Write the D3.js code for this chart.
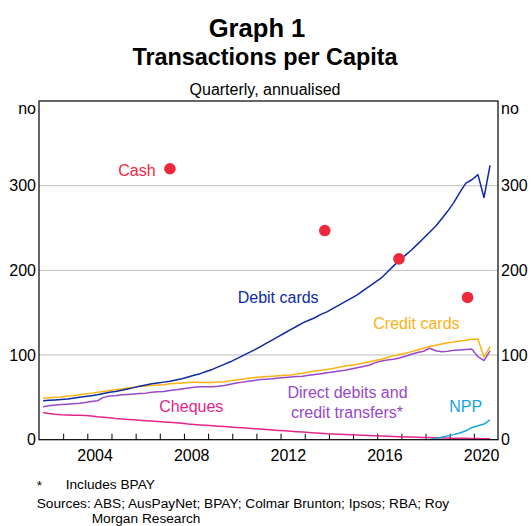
<!DOCTYPE html>
<head>
    <meta charset='utf-8'>
    <title>Transactions per Capita</title>
    <script src='https://d3js.org/d3.v7.min.js'></script>
    <style>
        html, body {
            margin: 0px;
            padding: 0px;
            background: white;
        }
        svg {
            display: block;
            font-family: 'Liberation Sans', Arial, sans-serif;
        }
    </style>
</head>
<body>
    <div id='chart'></div>
    <script>
        // quarterly, first quarter is 2002 Q1
        var firstYear = 2002;

        var debit = [
            46, 46.5, 47, 47.5,   48, 49, 50, 51,   52, 53, 54.5, 56,   57, 58.5, 60, 61.5,
            63, 64.5, 66, 67,     68, 69, 70.5, 72, 74, 76, 78, 80.5,   83, 86, 89, 92,
            95.5, 99, 102.5, 106, 110, 114, 118, 122, 126, 130, 134, 138, 141, 144, 148, 151,
            155, 159, 163, 167,   171, 176, 181, 186, 191, 198, 205, 212, 218, 224, 231, 238,
            245, 252, 261, 270,   280, 292, 303, 307, 313, 286, 324
        ];
        var credit = [
            49, 49.5, 50, 50.5,   51.5, 52, 53, 54, 55, 56, 57, 58,     59, 60, 61, 62,
            63, 63.5, 64, 64.5,   65, 66, 66.5, 67, 67.5, 68, 67.5, 67.5, 67.5, 68, 68.5, 69.5,
            70.5, 71.5, 72.5, 73.5, 74, 74.5, 75, 75.5, 76, 76.5, 77.5, 78.5, 80, 81, 82, 83,
            84, 85.5, 87, 88,     89, 90.5, 92, 93.5, 95, 97, 99, 100.5, 102, 104, 106, 108,
            110, 111.5, 113, 114.5, 115.5, 116.5, 117.5, 118.5, 119, 97.5, 110
        ];
        var directDebits = [
            39, 40, 41, 41.5,     42, 42.5, 43, 44, 45, 46, 50, 51.5,   52, 53, 53.5, 54,
            54.5, 55, 56, 56.5,   57, 58, 59, 60,   61, 62, 62.5, 62.5, 62.5, 63, 64, 65.5,
            67, 68, 69, 70,       71, 71.5, 72, 73, 73.5, 74, 74.5, 75, 76, 77, 78, 79,
            80, 81, 82, 83.5,     85, 86.5, 88, 91, 93, 94, 95, 96.5,  98.5, 101, 103, 104.5,
            108, 105, 104, 104.5, 105.5, 106, 106.5, 107, 98, 93.5, 105
        ];
        var cheques = [
            32, 31, 30, 29.5,     29.2, 29, 28.8, 28.5, 28, 27, 26.5, 26, 25, 24.5, 24, 23.5,
            23, 22.5, 22, 21.5,   21, 20.5, 20, 19.5, 18.5, 18, 17.5, 17, 16.5, 16, 15.5, 15,
            14.5, 14, 13.5, 13,   12.5, 12, 11.5, 11, 10.5, 10, 9.5, 9,  8.5, 8, 7.5, 7,
            6.8, 6.5, 6.2, 5.9,   5.6, 5.3, 5, 4.7, 4.4, 4.1, 3.8, 3.5,  3.3, 3.1, 2.9, 2.7,
            2.5, 2.3, 2.1, 1.9,   1.8, 1.7, 1.6, 1.5, 1.3, 1.1, 1.1
        ];
        // NPP starts 2018 Q1
        var nppStart = 64;
        var npp = [0.2, 1.5, 3, 4.5, 6, 8, 10.5, 14.5, 16.5, 18.5, 23.3];

        // cash survey points
        var cashYears = [2007.42, 2013.83, 2016.9, 2019.74];
        var cashValues = [320, 247, 213.5, 168];

        var yTicks = [0, 100, 200, 300];
        var yearLabels = [2004, 2008, 2012, 2016, 2020];

        var width = 531, height = 526;
        var margin = {top: 101, right: 33, bottom: 86.3, left: 39};

        var svg = d3.select('#chart').append('svg')
            .attr('width', width)
            .attr('height', height);

        var x = d3.scaleLinear()
            .domain([2002, 2021])
            .range([margin.left, width - margin.right]);
        var y = d3.scaleLinear()
            .domain([0, 400])
            .range([height - margin.bottom, margin.top]);

        function qDate(i) { return firstYear + Math.floor(i / 4) + (i % 4) / 4 + 0.17; }

        // titles
        svg.append('text').attr('x', 257).attr('y', 37)
            .attr('text-anchor', 'middle').attr('font-weight', 'bold').attr('font-size', 25.6)
            .text('Graph 1');
        svg.append('text').attr('x', 265).attr('y', 65)
            .attr('text-anchor', 'middle').attr('font-weight', 'bold').attr('font-size', 23.4)
            .text('Transactions per Capita');
        svg.append('text').attr('x', 265).attr('y', 95)
            .attr('text-anchor', 'middle').attr('font-size', 16)
            .text('Quarterly, annualised');

        // gridlines
        svg.append('g').selectAll('line')
            .data(yTicks.slice(1))
            .enter().append('line')
            .attr('x1', x.range()[0]).attr('x2', x.range()[1])
            .attr('y1', function(d) { return y(d); })
            .attr('y2', function(d) { return y(d); })
            .attr('stroke', '#bdbdbd').attr('stroke-width', 1);

        // y axes, left and right
        var yl = svg.append('g')
            .attr('transform', 'translate(' + margin.left + ',0)')
            .call(d3.axisLeft(y).tickValues(yTicks).tickSize(0).tickPadding(3));
        var yr = svg.append('g')
            .attr('transform', 'translate(' + (width - margin.right) + ',0)')
            .call(d3.axisRight(y).tickValues(yTicks).tickSize(0).tickPadding(3));
        [yl, yr].forEach(function(g) {
            g.select('.domain').remove();
            g.selectAll('text').attr('font-size', 16).attr('fill', '#000')
                .attr('font-family', "'Liberation Sans', Arial, sans-serif");
        });
        svg.append('text').attr('x', 36).attr('y', 114)
            .attr('text-anchor', 'end').attr('font-size', 16).text('no');
        svg.append('text').attr('x', 501).attr('y', 114)
            .attr('font-size', 16).text('no');

        // x axis: year ticks inward, labels mid-year
        var xTicks = svg.append('g')
            .attr('transform', 'translate(0,' + y(0) + ')')
            .call(d3.axisBottom(x).tickValues(d3.range(2003, 2021)).tickSize(-6).tickFormat(''));
        xTicks.select('.domain').remove();
        xTicks.selectAll('line').attr('stroke', '#000');

        var xLabels = svg.append('g')
            .attr('transform', 'translate(0,' + y(0) + ')')
            .call(d3.axisBottom(x).tickValues(yearLabels.map(function(d) { return d + 0.3; }))
                .tickSize(0).tickPadding(10).tickFormat(function(d) { return Math.floor(d); }));
        xLabels.select('.domain').remove();
        xLabels.selectAll('text').attr('font-size', 16).attr('fill', '#000')
            .attr('font-family', "'Liberation Sans', Arial, sans-serif");

        // lines
        var line = d3.line()
            .x(function(d) { return x(d[0]); })
            .y(function(d) { return y(d[1]); });

        function pairs(values, start) {
            return values.map(function(v, i) { return [qDate(i + start), v]; });
        }

        var series = [
            {values: pairs(cheques, 0), color: '#e5258c'},
            {values: pairs(npp, nppStart), color: '#18a4df'},
            {values: pairs(directDebits, 0), color: '#9848c8'},
            {values: pairs(credit, 0), color: '#fdb213'},
            {values: pairs(debit, 0), color: '#0d2ba6'}
        ];

        svg.append('g').selectAll('path')
            .data(series)
            .enter().append('path')
            .attr('d', function(d) { return line(d.values); })
            .attr('fill', 'none')
            .attr('stroke', function(d) { return d.color; })
            .attr('stroke-width', 1.5)
            .attr('stroke-linejoin', 'round');

        // cash dots
        svg.append('g').selectAll('circle')
            .data(cashYears)
            .enter().append('circle')
            .attr('cx', function(d) { return x(d); })
            .attr('cy', function(d, i) { return y(cashValues[i]); })
            .attr('r', 5.8)
            .attr('fill', '#f0283c');

        // frame
        svg.append('rect')
            .attr('x', x.range()[0]).attr('y', y.range()[1])
            .attr('width', x.range()[1] - x.range()[0])
            .attr('height', y.range()[0] - y.range()[1])
            .attr('fill', 'none').attr('stroke', '#000').attr('stroke-width', 1.2);

        // series labels
        var labels = [
            {t: 'Cash', x: 118.3, y: 176, c: '#f0283c', a: 'start'},
            {t: 'Debit cards', x: 237.7, y: 303, c: '#0d2ba6', a: 'start'},
            {t: 'Credit cards', x: 373.3, y: 329, c: '#fdb213', a: 'start'},
            {t: 'Cheques', x: 159.3, y: 412, c: '#e5258c', a: 'start'},
            {t: 'Direct debits and', x: 347.5, y: 398, c: '#9848c8', a: 'middle'},
            {t: 'credit transfers*', x: 347, y: 418, c: '#9848c8', a: 'middle'},
            {t: 'NPP', x: 449.3, y: 412, c: '#18a4df', a: 'start'}
        ];
        svg.append('g').selectAll('text')
            .data(labels)
            .enter().append('text')
            .attr('x', function(d) { return d.x; })
            .attr('y', function(d) { return d.y; })
            .attr('text-anchor', function(d) { return d.a; })
            .attr('fill', function(d) { return d.c; })
            .attr('font-size', 16)
            .text(function(d) { return d.t; });

        // notes
        var notes = svg.append('g').attr('font-size', 13.7);
        notes.append('text').attr('x', 36.7).attr('y', 490).text('*');
        notes.append('text').attr('x', 65.7).attr('y', 489).text('Includes BPAY');
        notes.append('text').attr('x', 36.7).attr('y', 508)
            .text('Sources: ABS; AusPayNet; BPAY; Colmar Brunton; Ipsos; RBA; Roy');
        notes.append('text').attr('x', 91.7).attr('y', 523).text('Morgan Research');
    </script>
</body>
